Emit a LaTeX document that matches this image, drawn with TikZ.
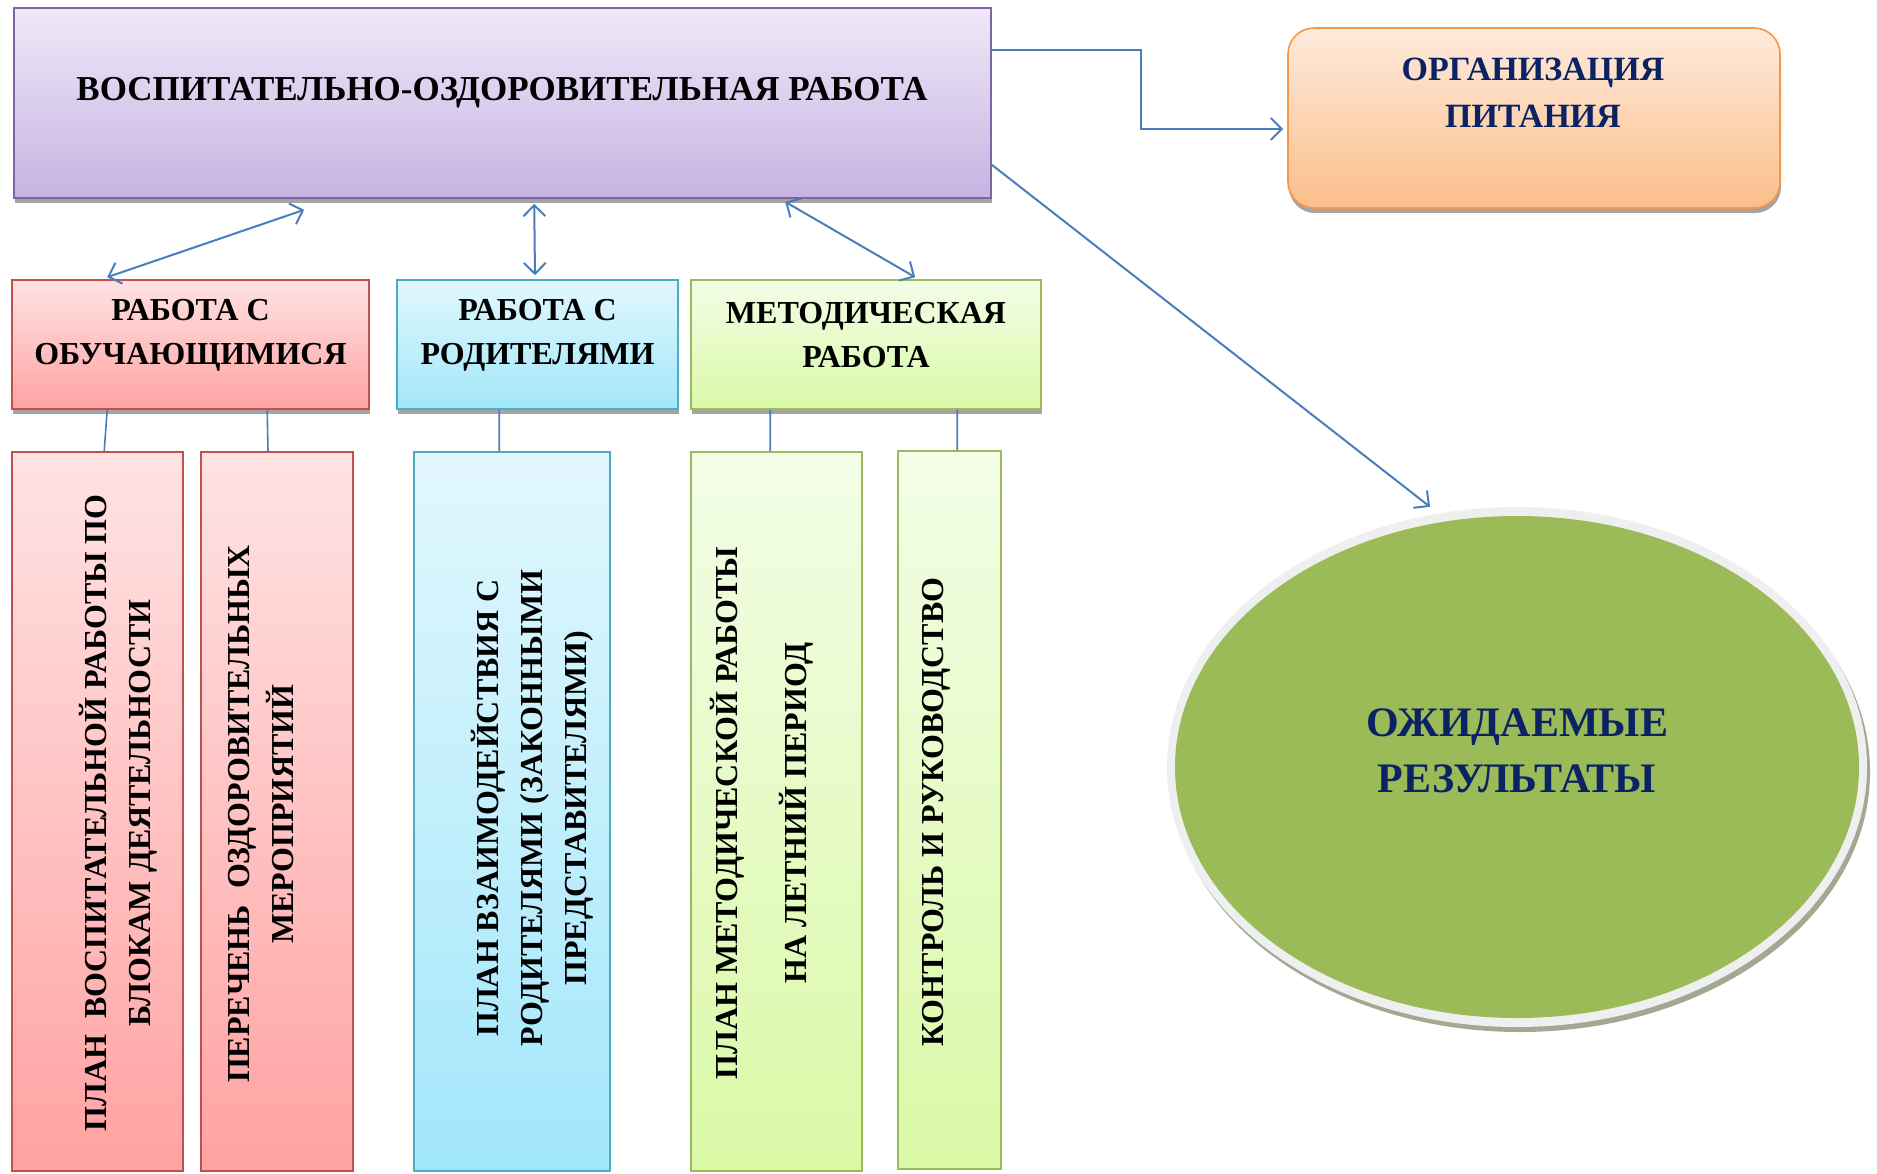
\documentclass[tikz,border=0pt]{standalone}
\usepackage{fontspec}
\setmainfont{Liberation Serif}
\usetikzlibrary{arrows.meta,shapes.geometric,shadows}
\definecolor{purT}{HTML}{EFE9F8}
\definecolor{purB}{HTML}{C6B3E2}
\definecolor{purD}{HTML}{8064A2}
\definecolor{redT}{HTML}{FFE3E3}
\definecolor{redB}{HTML}{FFA2A2}
\definecolor{redD}{HTML}{C0504D}
\definecolor{bluT}{HTML}{E2F7FD}
\definecolor{bluB}{HTML}{A2E7FB}
\definecolor{bluD}{HTML}{4BACC6}
\definecolor{grnT}{HTML}{F3FDE7}
\definecolor{grnB}{HTML}{DAF9A6}
\definecolor{grnD}{HTML}{9BBB59}
\definecolor{orT}{HTML}{FEEBDC}
\definecolor{orB}{HTML}{FBBE8A}
\definecolor{orD}{HTML}{F79646}
\definecolor{navy}{HTML}{0B2363}
\definecolor{arrc}{HTML}{4A7EBB}
\definecolor{shg}{HTML}{A4A4A4}
\definecolor{rim}{HTML}{EFEFEF}
\definecolor{ellsh}{HTML}{A2A892}
\definecolor{ellg}{HTML}{9BBB59}
\begin{document}
\begin{tikzpicture}[x=1bp,y=-1bp,
  >={Straight Barb[length=11bp,width=22bp]},
  box/.style={line width=1.6bp, inner sep=0pt, anchor=center},
  shd/.style={drop shadow={shadow xshift=1bp, shadow yshift=-5bp, fill=shg, opacity=1}},
  purbox/.style={box, draw=purD, top color=purT, bottom color=purB},
  redbox/.style={box, draw=redD, top color=redT, bottom color=redB},
  blubox/.style={box, draw=bluD, top color=bluT, bottom color=bluB},
  grnbox/.style={box, draw=grnD, top color=grnT, bottom color=grnB},
  orbox/.style={box, draw=orD, top color=orT, bottom color=orB, rounded corners=26bp},
  txt/.style={font=\bfseries\fontsize{32bp}{44bp}\selectfont, align=center, inner sep=0pt},
  vtxt/.style={txt, rotate=90},
  arr/.style={draw=arrc, line width=2bp},
  lnk/.style={draw=arrc, line width=1.6bp}
]
\useasboundingbox (0,0) rectangle (1877,1173);

% top box
\node[purbox, shd, minimum width=977bp, minimum height=190bp] (top) at (502.5,103) {};
\node[txt, font=\bfseries\fontsize{35bp}{44bp}\selectfont] (toptxt) at (502,93) {ВОСПИТАТЕЛЬНО-ОЗДОРОВИТЕЛЬНАЯ РАБОТА};

% organisation box
\node[orbox, shd, minimum width=492bp, minimum height=180bp] (org) at (1534,118) {};
\node[txt, text=navy, font=\bfseries\fontsize{34bp}{47bp}\selectfont] (orgtxt) at (1533,92.5) {ОРГАНИЗАЦИЯ\\ПИТАНИЯ};

% header boxes
\node[redbox, shd, minimum width=357bp, minimum height=129bp] (hr) at (190.5,344.5) {};
\node[txt] (hrtxt) at (190.5,335.5) {РАБОТА С\\ОБУЧАЮЩИМИСЯ};
\node[blubox, shd, minimum width=281bp, minimum height=129bp] (hb) at (537.5,344.5) {};
\node[txt] (hbtxt) at (537.5,335.5) {РАБОТА С\\РОДИТЕЛЯМИ};
\node[grnbox, shd, minimum width=350bp, minimum height=129bp] (hg) at (866,344.5) {};
\node[txt] (hgtxt) at (866,335.5) {МЕТОДИЧЕСКАЯ\\РАБОТА};

% bottom boxes
\node[redbox, minimum width=171bp, minimum height=719bp] (br1) at (97.5,811.5) {};
\node[vtxt] (br1txt) at (118,813) {ПЛАН\ \ ВОСПИТАТЕЛЬНОЙ РАБОТЫ ПО\\БЛОКАМ ДЕЯТЕЛЬНОСТИ};
\node[redbox, minimum width=152bp, minimum height=719bp] (br2) at (277,811.5) {};
\node[vtxt] (br2txt) at (261.5,814) {ПЕРЕЧЕНЬ\ \ ОЗДОРОВИТЕЛЬНЫХ\\МЕРОПРИЯТИЙ};
\node[blubox, minimum width=196bp, minimum height=719bp] (bb) at (512,811.5) {};
\node[vtxt] (bbtxt) at (532.5,808) {ПЛАН ВЗАИМОДЕЙСТВИЯ С\\РОДИТЕЛЯМИ (ЗАКОННЫМИ\\ПРЕДСТАВИТЕЛЯМИ)};
\node[grnbox, minimum width=171bp, minimum height=719bp] (bg1) at (776.5,811.5) {};
\node[vtxt] (bg1txt) at (761.5,813) {ПЛАН МЕТОДИЧЕСКОЙ РАБОТЫ\\[25bp]НА ЛЕТНИЙ ПЕРИОД};
\node[grnbox, minimum width=103bp, minimum height=718bp] (bg2) at (949.5,810) {};
\node[vtxt] (bg2txt) at (936,812) {КОНТРОЛЬ И РУКОВОДСТВО};

% ellipse
\node[ellipse, fill=rim, inner sep=0pt, minimum width=700bp, minimum height=520bp,
      drop shadow={shadow xshift=3bp, shadow yshift=-5bp, fill=ellsh, opacity=1}] (ell) at (1517,767) {};
\node[ellipse, fill=ellg, inner sep=0pt, minimum width=684bp, minimum height=502bp] (ellin) at (1517,767) {};
\node[txt, text=navy, font=\bfseries\fontsize{42bp}{56bp}\selectfont] (elltxt) at (1517,751) {ОЖИДАЕМЫЕ\\РЕЗУЛЬТАТЫ};

% connectors
\draw[arr,<->] ([xshift=291bp,yshift=-11bp]top.south west) -- ([xshift=96bp,yshift=2bp]hr.north west);
\draw[arr,<->] ([xshift=521bp,yshift=-5bp]top.south west) -- ([xshift=-2.5bp,yshift=4bp]hb.north);
\draw[arr,<->] ([xshift=772bp,yshift=-3bp]top.south west) -- ([xshift=225bp,yshift=2bp]hg.north west);
\draw[arr,->] ([yshift=-43bp]top.north east) -- ++(149,0) |- ([xshift=-4bp,yshift=-11bp]org.west);
\draw[arr,->] ([yshift=34bp]top.south east) -- ([xshift=-87bp]ell.north);

\draw[lnk] ([xshift=96bp]hr.south west) -- ([xshift=93bp]br1.north west);
\draw[lnk] ([xshift=256bp]hr.south west) -- ([xshift=-9bp]br2.north);
\draw[lnk] ([xshift=103bp]hb.south west) -- ([xshift=86bp]bb.north west);
\draw[lnk] ([xshift=80bp]hg.south west) -- ([xshift=80bp]bg1.north west);
\draw[lnk] ([xshift=267bp]hg.south west) -- ([xshift=60bp]bg2.north west);
\end{tikzpicture}
\end{document}
